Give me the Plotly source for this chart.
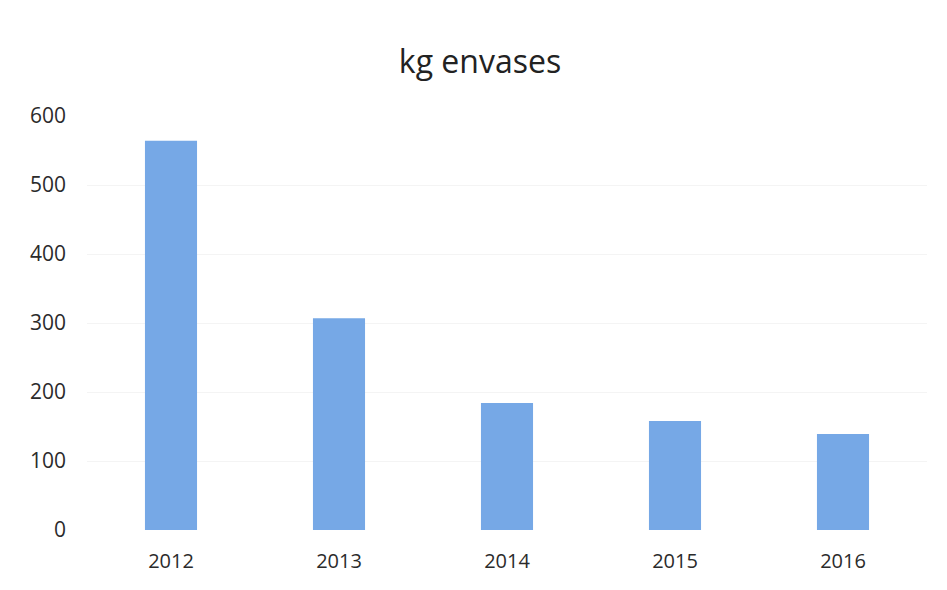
import plotly.graph_objects as go

years = ["2012", "2013", "2014", "2015", "2016"]
kg_envases = [564, 307, 184, 158, 139]
y_ticks = [0, 100, 200, 300, 400, 500, 600]

BAR_COLOR = "#76a8e6"
TEXT_COLOR = "#2b2b2b"

fig = go.Figure(go.Bar(
    x=years,
    y=kg_envases,
    marker=dict(color=BAR_COLOR, line=dict(width=0)),
    width=0.31,
))

# the page adds an 8px body margin, so the figure is a bit smaller than the window
fig.update_layout(
    width=931,
    height=574,
    title=dict(
        text="kg envases",
        x=0.507,
        xanchor="center",
        y=0.906,
        yanchor="middle",
        font=dict(family="Open Sans", size=32, color="#222222"),
    ),
    margin=dict(l=79, r=12, t=108, b=52),
    paper_bgcolor="white",
    plot_bgcolor="white",
    showlegend=False,
    font=dict(family="Open Sans", size=20, color=TEXT_COLOR),
)

fig.update_xaxes(
    showgrid=False,
    showline=False,
    ticks="",
    automargin=False,
    ticklabelstandoff=17,
    tickfont=dict(size=20),
)
fig.update_yaxes(
    range=[0, 600],
    tickvals=y_ticks,
    showgrid=True,
    gridcolor="#f4f4f4",
    gridwidth=1,
    zeroline=False,
    showline=False,
    ticks="",
    ticklabelstandoff=20,
    tickfont=dict(size=21),
)

fig.write_html("out.html")
